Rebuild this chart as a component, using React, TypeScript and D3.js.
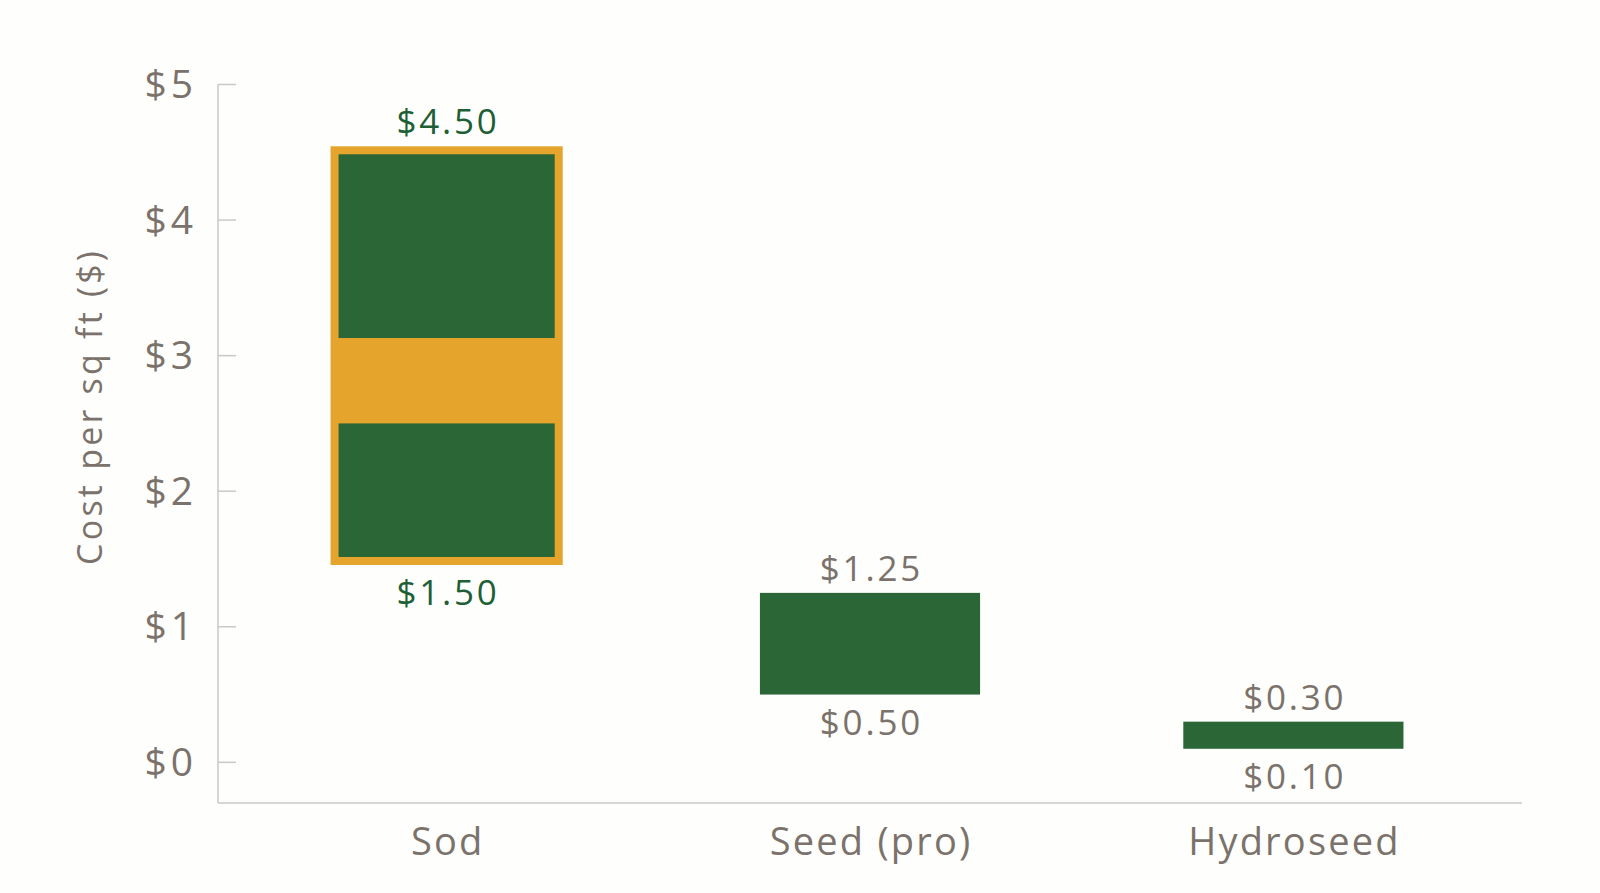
import React from "react";
import * as d3 from "d3";

const categories = ["Sod", "Seed (pro)", "Hydroseed"];
const lowValues = [1.5, 0.5, 0.1];
const highValues = [4.5, 1.25, 0.3];
const highlighted = [true, false, false];
const bandLow = 2.5;
const bandHigh = 3.13;
const yTicks = [0, 1, 2, 3, 4, 5];
const yTickLabels = ["$0", "$1", "$2", "$3", "$4", "$5"];
const lowLabels = ["$1.50", "$0.50", "$0.10"];
const highLabels = ["$4.50", "$1.25", "$0.30"];

const W = 1600;
const H = 893;
const GREEN = "#2b6636";
const ORANGE = "#e5a42c";
const GRAY = "#7b726b";
const DARKGREEN = "#1f5f35";
const AXIS = "#c9c9c9";
const FONT = "'Open Sans', 'Noto Sans', sans-serif";

export default function App() {
  const x = d3
    .scaleBand<string>()
    .domain(categories)
    .range([218, 1522])
    .paddingInner(0.48)
    .paddingOuter(0.28);
  const y = d3.scaleLinear().domain([-0.3, 5]).range([803, 84.5]);
  const bw = x.bandwidth();
  const pad = 6;
  const inset = 2;
  const lsTick = 4;
  const lsVal = 2.8;
  const lsCat = 2.2;
  const lsTitle = 3.2;

  return (
    <div style={{ position: "absolute", left: 0, top: 0 }}>
      <svg width={W} height={H} style={{ display: "block", background: "#fefefc" }}>
        <line x1={218} x2={218} y1={y(5)} y2={y(-0.3)} stroke={AXIS} strokeWidth={1.5} />
        <line x1={218} x2={1522} y1={y(-0.3)} y2={y(-0.3)} stroke={AXIS} strokeWidth={1.5} />
        {yTicks.map((t, i) => (
          <g key={t}>
            <line x1={218} x2={236} y1={y(t)} y2={y(t)} stroke={AXIS} strokeWidth={1.5} />
            <text
              x={193 + lsTick}
              y={y(t)}
              dy="0.35em"
              textAnchor="end"
              fontFamily={FONT}
              fontSize={39}
              letterSpacing={lsTick}
              fill={GRAY}
            >
              {yTickLabels[i]}
            </text>
          </g>
        ))}
        <text
          transform={`translate(102, 408) rotate(-90)`}
          textAnchor="middle"
          dx={lsTitle / 2}
          fontFamily={FONT}
          fontSize={34}
          letterSpacing={lsTitle}
          fill={GRAY}
        >
          Cost per sq ft ($)
        </text>

        {categories.map((c, i) => {
          const x0 = x(c)!;
          const yTop = y(highValues[i]);
          const yBot = y(lowValues[i]);
          const hl = highlighted[i];
          const labelColor = hl ? DARKGREEN : GRAY;
          const extra = hl ? pad : 0;
          return (
            <g key={c}>
              {hl ? (
                <>
                  <rect
                    x={x0 - pad}
                    y={yTop - pad}
                    width={bw + 2 * pad}
                    height={yBot - yTop + 2 * pad}
                    fill={ORANGE}
                  />
                  <rect
                    x={x0 + inset}
                    y={yTop + inset}
                    width={bw - 2 * inset}
                    height={y(bandHigh) - yTop - inset}
                    fill={GREEN}
                  />
                  <rect
                    x={x0 + inset}
                    y={y(bandLow)}
                    width={bw - 2 * inset}
                    height={yBot - y(bandLow) - inset}
                    fill={GREEN}
                  />
                </>
              ) : (
                <rect x={x0} y={yTop} width={bw} height={yBot - yTop} fill={GREEN} />
              )}
              <text
                x={x0 + bw / 2}
                y={yTop - 12 - extra}
                dx={lsVal / 2}
                textAnchor="middle"
                fontFamily={FONT}
                fontSize={35}
                letterSpacing={lsVal}
                fill={labelColor}
              >
                {highLabels[i]}
              </text>
              <text
                x={x0 + bw / 2}
                y={yBot + 40 + extra}
                dx={lsVal / 2}
                textAnchor="middle"
                fontFamily={FONT}
                fontSize={35}
                letterSpacing={lsVal}
                fill={labelColor}
              >
                {lowLabels[i]}
              </text>
              <text
                x={x0 + bw / 2}
                y={855}
                dx={lsCat / 2}
                textAnchor="middle"
                fontFamily={FONT}
                fontSize={38}
                letterSpacing={lsCat}
                fill={GRAY}
              >
                {c}
              </text>
            </g>
          );
        })}
      </svg>
    </div>
  );
}
